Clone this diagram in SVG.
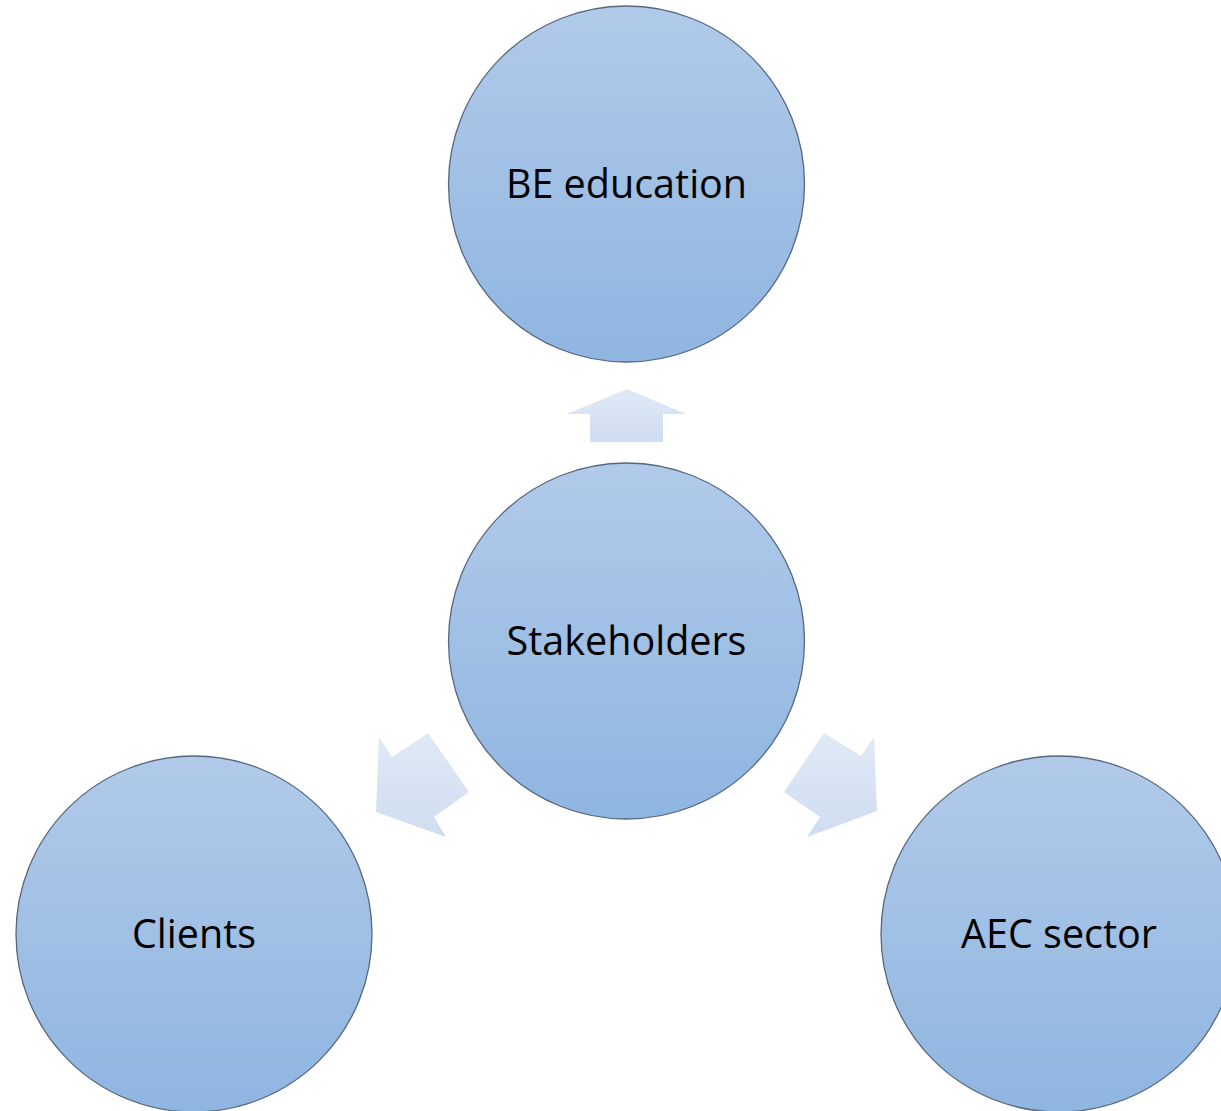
<svg xmlns="http://www.w3.org/2000/svg" width="1221" height="1111" viewBox="0 0 1221 1111">
<defs>
<linearGradient id="cg" x1="0" y1="0" x2="0" y2="1">
<stop offset="0" stop-color="#b1cae9"/>
<stop offset="1" stop-color="#8fb5e1"/>
</linearGradient>
<linearGradient id="ag" x1="0" y1="0" x2="0" y2="1">
<stop offset="0" stop-color="#e0e9f6"/>
<stop offset="1" stop-color="#cfddf1"/>
</linearGradient>
<style>
.node circle{stroke:#56677e;stroke-width:1.3}
.node text{font-family:"Open Sans","Liberation Sans",sans-serif;font-size:39.5px;fill:#000;text-anchor:middle}
</style>
</defs>
<rect width="1221" height="1111" fill="#fff"/>
<g id="connectors" fill="url(#ag)">
<polygon points="627,389 686,414 663,414 663,442 590,442 590,414 567,414"/>
<polygon points="376,812 379,737 392,757 428,733 469,792 434,817 446,837"/>
<polygon points="877,811 874,737 861,756 824,733 784,792 820,817 807,837"/>
</g>
<g id="node-be" class="node">
<circle cx="626.5" cy="184" r="178" fill="url(#cg)"/>
<text x="626.5" y="198">BE education</text>
</g>
<g id="node-stakeholders" class="node">
<circle cx="626.5" cy="641" r="178" fill="url(#cg)"/>
<text x="626.5" y="655">Stakeholders</text>
</g>
<g id="node-clients" class="node">
<circle cx="194" cy="934" r="178" fill="url(#cg)"/>
<text x="194" y="948">Clients</text>
</g>
<g id="node-aec" class="node">
<circle cx="1059" cy="934" r="178" fill="url(#cg)"/>
<text x="1059" y="948">AEC sector</text>
</g>
</svg>
